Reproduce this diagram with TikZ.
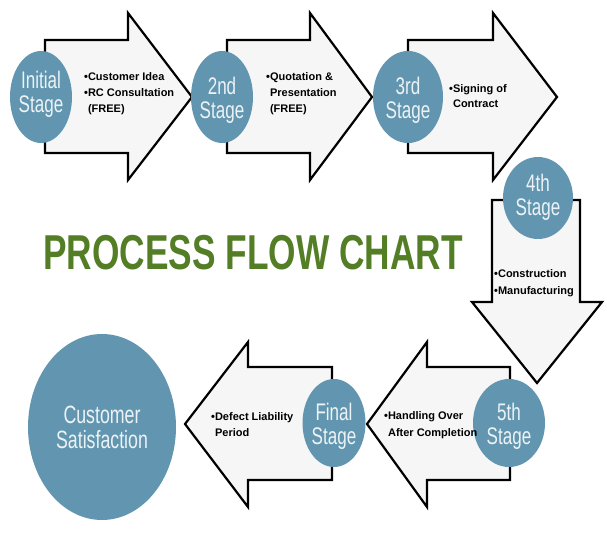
\documentclass[tikz,border=0pt]{standalone}
\usepackage{fontspec}
\setmainfont{Liberation Sans}
\usepackage{graphicx}
\usetikzlibrary{shapes.geometric}
\definecolor{stageblue}{RGB}{98,150,176}
\definecolor{arrowfill}{RGB}{246,246,246}
\definecolor{titlegreen}{RGB}{84,126,38}
\newcommand{\stagetext}[2][-4pt]{\raisebox{#1}[\height][\depth]{\scalebox{0.71}[1]{\begin{tabular}{@{}c@{}}#2\end{tabular}}}}
\newcommand{\notetext}[1]{\begin{tabular}{@{}l@{}}#1\end{tabular}}
\newcommand{\gap}{\phantom{\textbullet}}

\begin{document}
\begin{tikzpicture}[x=1pt,y=-1pt,
    blockarrow/.style={draw=black,line width=2.2pt,fill=arrowfill,line join=miter},
    stage/.style={ellipse,fill=stageblue,text=white!88!stageblue,inner sep=-6pt,font=\fontsize{24}{22}\selectfont},
    note/.style={anchor=north west,inner sep=0pt,font=\fontsize{11}{16}\selectfont\bfseries}]
  \useasboundingbox (0,0) rectangle (607,534);
  % block arrows, top row left to right
  \draw[blockarrow] (45,40) -- (128,40) -- (128,13) -- (192,97) -- (128,180) -- (128,153) -- (45,153) -- cycle;
  \draw[blockarrow] (227,40) -- (310,40) -- (310,13) -- (372,97) -- (310,180) -- (310,153) -- (227,153) -- cycle;
  \draw[blockarrow] (408,40) -- (493,40) -- (493,13) -- (557,97) -- (493,180) -- (493,153) -- (408,153) -- cycle;
  % down arrow
  \draw[blockarrow] (492,200) -- (492,302) -- (472,302) -- (537,383) -- (602,302) -- (580,302) -- (580,200) -- cycle;
  % bottom row, right to left
  \draw[blockarrow] (510,367) -- (427,367) -- (427,342) -- (367,424) -- (427,507) -- (427,480) -- (510,480) -- cycle;
  \draw[blockarrow] (332,367) -- (248,367) -- (248,342) -- (185,424) -- (248,507) -- (248,480) -- (332,480) -- cycle;

  \node[stage,minimum width=62pt,minimum height=92pt] (initial) at (41,97) {\stagetext[2pt]{Initial\\Stage}};
  \node[stage,minimum width=62pt,minimum height=92pt] (second) at (222,97) {\stagetext{2nd\\Stage}};
  \node[stage,minimum width=70pt,minimum height=92pt] (third) at (408,97) {\stagetext{3rd\\Stage}};
  \node[stage,minimum width=70pt,minimum height=82pt] (fourth) at (538,198) {\stagetext[0pt]{4th\\Stage}};
  \node[stage,minimum width=72pt,minimum height=88pt] (fifth) at (509,423) {\stagetext{5th\\Stage}};
  \node[stage,minimum width=63pt,minimum height=88pt] (final) at (334,423) {\stagetext{Final\\Stage}};
  \node[stage,minimum width=148pt,minimum height=186pt,font=\fontsize{25}{24}\selectfont] (satisfaction) at (102,427) {\stagetext{Customer\\Satisfaction}};

  \node[note] (initialnote) at (84,69) {\notetext{\textbullet Customer Idea\\\textbullet RC Consultation\\\gap(FREE)}};
  \node[note] (secondnote) at (266,69) {\notetext{\textbullet Quotation \&\\\gap Presentation\\\gap(FREE)}};
  \node[note] (thirdnote) at (449,81) {\notetext{\textbullet Signing of\\[-1pt]\gap Contract}};
  \node[note] (fourthnote) at (494,266) {\notetext{\textbullet Construction\\[1pt]\textbullet Manufacturing}};
  \node[note] (fifthnote) at (384,408) {\notetext{\textbullet Handling Over\\[1pt]\gap After Completion}};
  \node[note] (finalnote) at (211,409) {\notetext{\textbullet Defect Liability\\\gap Period}};

  \node[anchor=base west,inner sep=0pt,text=titlegreen,font=\fontsize{49}{49}\selectfont\bfseries] (title) at (43,270) {\scalebox{0.72}[1]{PROCESS FLOW CHART}};
\end{tikzpicture}
\end{document}
